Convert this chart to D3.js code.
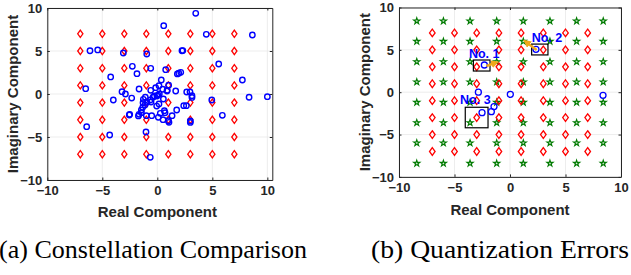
<!DOCTYPE html>
<html><head><meta charset="utf-8">
<script src="https://cdn.jsdelivr.net/npm/d3@7"></script>
<style>body{margin:0;background:#fff}svg{display:block}</style>
</head><body>
<script>
// ---------- data ----------
const qamLevels = [-7, -5, -3, -1, 1, 3, 5, 7];
const starLevels = [-8.4, -6.0, -3.6, -1.2, 1.2, 3.6, 6.0, 8.4];
const tickValues = [-10, -5, 0, 5, 10];

const rxA_x = [3.49,0.58,4.45,8.64,-6.12,-5.42,-3.09,-0.96,2.24,2.32,5.58,-2.27,-1.85,-0.6,0.76,1.82,1.95,2.13,-4.24,7.73,
  -6.51,0.36,1.03,-1.66,-3.21,-2.9,-2.33,-4.0,-0.6,-0.15,0.15,0.49,0.88,0.9,1.67,2.67,2.97,3.15,3.15,8.34,
  10.0,4.95,-1.27,-1.09,-0.27,-0.39,0.06,0.18,0.55,0.15,-0.06,-0.57,-1.3,-1.12,-1.33,-1.45,-1.45,-1.66,-1.72,-2.51,
  -0.94,-0.64,-0.03,0.64,0.7,1.0,1.76,2.4,2.64,1.34,0.52,0.09,-0.51,-1.0,-2.55,3.0,3.0,5.91,-6.42,-4.33,
  -1.03,-0.64,0.27,1.06];
const rxA_y = [9.38,7.94,6.94,6.86,5.03,5.12,4.77,4.65,5.03,5.05,3.49,3.22,2.36,2.99,2.83,2.33,2.42,2.52,1.98,1.63,
  0.62,1.63,1.03,0.58,0.27,0.0,-0.47,-0.7,0.43,0.74,0.97,0.55,0.35,0.45,0.35,0.23,0.23,-0.2,-0.4,-0.38,
  -0.31,-0.7,-0.62,-0.38,-0.23,-0.38,-0.12,0.0,-0.58,-1.16,-1.4,-0.93,-1.01,-1.28,-1.55,-1.86,-2.17,-2.36,-2.55,-2.36,
  -0.97,-0.7,-0.23,-1.94,-2.17,-3.1,-1.86,-1.36,-1.36,-2.52,-2.99,-2.71,-2.52,-2.52,-2.44,-3.14,-3.3,-2.48,-3.8,-4.77,
  -4.42,-7.36,-2.25,-3.29];

const rxB_x = [-2.31, 2.34, -2.85, 0.03, 8.38, -1.44, -1.68, -2.52];
const rxB_y = [3.21, 5.06, 0.0, -0.25, -0.37, -1.7, -2.3, -2.42];

const boxLabels = ["No. 1", "No. 2", "No. 3"];
const boxX0 = [-3.3, 1.95, -4.03];
const boxX1 = [-1.8, 3.42, -1.98];
const boxY0 = [2.5, 4.4, -4.2];
const boxY1 = [3.8, 5.68, -1.78];
const labelX = [-3.7, 1.95, -4.5];
const labelY = [4.0, 5.96, -1.39];
const arrowFromX = [-2.12, 2.4];
const arrowFromY = [3.09, 4.98];
const arrowToX = [-1.26, 1.41];
const arrowToY = [3.5, 5.96];

const captions = ["(a) Constellation Comparison", "(b) Quantization Errors"];

// ---------- drawing ----------
const W = 631, H = 275;
const svg = d3.select("body").append("svg").attr("width", W).attr("height", H)
  .style("font-family", "'Liberation Sans', Arial, sans-serif");
svg.append("rect").attr("width", W).attr("height", H).attr("fill", "#fff");

const defs = svg.append("defs");
defs.append("marker").attr("id", "ah").attr("viewBox", "0 0 10 10")
  .attr("refX", 6).attr("refY", 5).attr("markerWidth", 3.2).attr("markerHeight", 3.2)
  .attr("orient", "auto").append("path").attr("d", "M0,0 L10,5 L0,10 z").attr("fill", "#F0A81C");

const txtCol = "#262626";

function panel(cfg) {
  const x = d3.scaleLinear().domain(cfg.xd).range(cfg.xr);
  const y = d3.scaleLinear().domain([-10, 10]).range(cfg.yr);
  const g = svg.append("g");
  const [x0, x1] = cfg.xr, [y0, y1] = cfg.yr;
  // grid
  g.append("g").selectAll("line.gx").data(tickValues).join("line")
    .attr("x1", d => x(d)).attr("x2", d => x(d)).attr("y1", y1).attr("y2", y0)
    .attr("stroke", "#e8e8e8").attr("stroke-width", 0.8);
  g.append("g").selectAll("line.gy").data(tickValues).join("line")
    .attr("y1", d => y(d)).attr("y2", d => y(d)).attr("x1", x0).attr("x2", x1)
    .attr("stroke", "#e8e8e8").attr("stroke-width", 0.8);
  // axes
  const tl = 2.5;
  const ax = d3.axisBottom(x).tickValues(tickValues).tickSizeInner(-tl).tickSizeOuter(0).tickPadding(6);
  const axT = d3.axisTop(x).tickValues(tickValues).tickSizeInner(-tl).tickSizeOuter(0).tickFormat("");
  const ay = d3.axisLeft(y).tickValues(tickValues).tickSizeInner(-tl).tickSizeOuter(0).tickPadding(5);
  const ayR = d3.axisRight(y).tickValues(tickValues).tickSizeInner(-tl).tickSizeOuter(0).tickFormat("");
  const gx = g.append("g").attr("transform", `translate(0,${y0})`).call(ax);
  const gxt = g.append("g").attr("transform", `translate(0,${y1})`).call(axT);
  const gy = g.append("g").attr("transform", `translate(${x0},0)`).call(ay);
  const gyr = g.append("g").attr("transform", `translate(${x1},0)`).call(ayR);
  [gx, gxt, gy, gyr].forEach(a => {
    a.select(".domain").attr("stroke", txtCol).attr("stroke-width", 1);
    a.selectAll(".tick line").attr("stroke", txtCol);
    a.selectAll("text").attr("fill", txtCol).style("font-size", "13px").style("font-weight", "bold")
      .style("font-family", "'Liberation Sans', Arial, sans-serif");
  });
  gx.selectAll("text").attr("dy", "0.71em");
  // labels
  g.append("text").attr("x", (x(-10) + x(10)) / 2).attr("y", cfg.xlabY)
    .attr("text-anchor", "middle").attr("fill", txtCol).style("font-size", "15px").style("font-weight", "bold")
    .text("Real Component");
  g.append("text").attr("transform", `translate(${cfg.ylabX},${(y0 + y1) / 2}) rotate(-90)`)
    .attr("text-anchor", "middle").attr("fill", txtCol).style("font-size", "15px").style("font-weight", "bold")
    .text("Imaginary Component");
  return {g, x, y};
}

function diamonds(p, w, h) {
  const pts = [];
  qamLevels.forEach(a => qamLevels.forEach(b => pts.push([a, b])));
  p.g.append("g").selectAll("path").data(pts).join("path")
    .attr("d", d => {
      const cx = p.x(d[0]), cy = p.y(d[1]);
      return `M${cx},${cy - h}L${cx + w},${cy}L${cx},${cy + h}L${cx - w},${cy}Z`;
    })
    .attr("fill", "none").attr("stroke", "#ff0000").attr("stroke-width", 1.3);
}

// Panel (a)
const pa = panel({xd: [-10, 10.45], xr: [47.3, 272.3], yr: [180, 8], xlabY: 217, ylabX: 18});
diamonds(pa, 2.6, 3.6);
pa.g.append("g").selectAll("circle").data(rxA_x.map((v, i) => [v, rxA_y[i]])).join("circle")
  .attr("cx", d => pa.x(d[0])).attr("cy", d => pa.y(d[1])).attr("r", 2.7)
  .attr("fill", "none").attr("stroke", "#0000ff").attr("stroke-width", 1.4);

// Panel (b)
const pb = panel({xd: [-10, 10], xr: [399, 621], yr: [176.9, 7.5], xlabY: 215, ylabX: 370});
const stars = [];
starLevels.forEach(a => starLevels.forEach(b => stars.push([a, b])));
const starSym = d3.symbol().type(d3.symbolStar).size(12);
pb.g.append("g").selectAll("path").data(stars).join("path")
  .attr("transform", d => `translate(${pb.x(d[0])},${pb.y(d[1])})`)
  .attr("d", starSym).attr("fill", "#cfe8cf").attr("stroke", "#007a00").attr("stroke-width", 1.1);
diamonds(pb, 2.8, 3.8);
pb.g.append("g").selectAll("rect").data(boxLabels).join("rect")
  .attr("x", (d, i) => pb.x(boxX0[i])).attr("y", (d, i) => pb.y(boxY1[i]))
  .attr("width", (d, i) => pb.x(boxX1[i]) - pb.x(boxX0[i]))
  .attr("height", (d, i) => pb.y(boxY0[i]) - pb.y(boxY1[i]))
  .attr("fill", "none").attr("stroke", "#000").attr("stroke-width", 1.2);
pb.g.append("g").selectAll("circle").data(rxB_x.map((v, i) => [v, rxB_y[i]])).join("circle")
  .attr("cx", d => pb.x(d[0])).attr("cy", d => pb.y(d[1])).attr("r", 3)
  .attr("fill", "none").attr("stroke", "#0000ff").attr("stroke-width", 1.3);
pb.g.append("g").selectAll("line").data(arrowFromX).join("line")
  .attr("x1", (d, i) => pb.x(arrowFromX[i])).attr("y1", (d, i) => pb.y(arrowFromY[i]))
  .attr("x2", (d, i) => pb.x(arrowToX[i])).attr("y2", (d, i) => pb.y(arrowToY[i]))
  .attr("stroke", "#F0A81C").attr("stroke-width", 2.5).attr("marker-end", "url(#ah)");
pb.g.append("g").selectAll("text").data(boxLabels).join("text")
  .attr("x", (d, i) => pb.x(labelX[i])).attr("y", (d, i) => pb.y(labelY[i]))
  .attr("fill", "#0000ff").style("font-size", "12.5px").style("font-weight", "bold").text(d => d);

// captions
svg.append("g").selectAll("text").data(captions).join("text")
  .attr("x", (d, i) => i === 0 ? -1 : 371).attr("y", 258)
  .attr("textLength", (d, i) => i === 0 ? 308 : 258).attr("lengthAdjust", "spacingAndGlyphs")
  .style("font-family", "'Liberation Serif', 'Times New Roman', serif").style("font-size", "25px")
  .attr("fill", "#000").text(d => d);
</script>
</body></html>
